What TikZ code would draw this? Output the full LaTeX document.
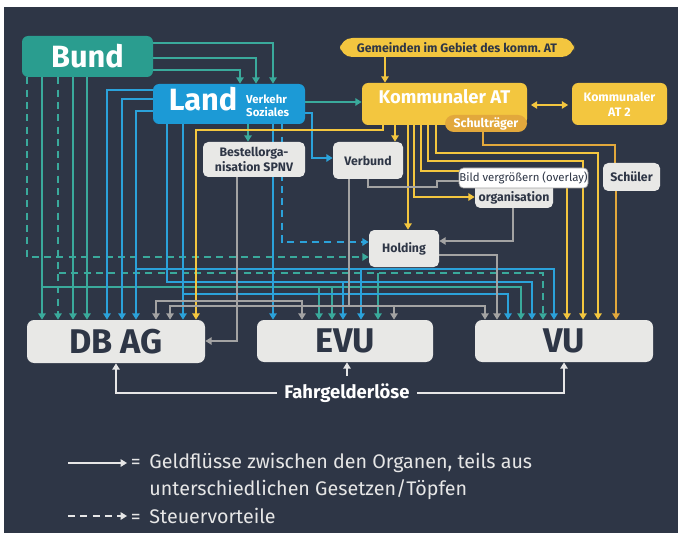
\documentclass[tikz,border=0pt]{standalone}
\usepackage{fontspec}
\setmainfont{Fira Sans}
\usetikzlibrary{arrows.meta}

\definecolor{bgdark}{HTML}{2E3646}
\definecolor{bundteal}{HTML}{2A9D8F}
\definecolor{tealline}{HTML}{3AAA9C}
\definecolor{landblue}{HTML}{1C9AD6}
\definecolor{blueline}{HTML}{2BA2DA}
\definecolor{komyellow}{HTML}{F3C63F}
\definecolor{schulorange}{HTML}{E2A83C}
\definecolor{boxlight}{HTML}{E8E8E6}
\definecolor{boxtext}{HTML}{2E3646}
\definecolor{grayline}{HTML}{A3A3A3}
\definecolor{whiteline}{HTML}{E6E6E6}

\pgfdeclarelayer{bg}
\pgfdeclarelayer{lines}
\pgfsetlayers{bg,lines,main}

\newcommand{\hugefont}{\fontsize{19.5}{21}\selectfont\bfseries}
\newcommand{\bigfont}{\fontsize{17.5}{19}\selectfont\bfseries}
\newcommand{\komfont}{\fontsize{10.5}{12}\selectfont\bfseries}
\newcommand{\smallbold}{\fontsize{7}{8.5}\selectfont\bfseries}
\newcommand{\legendfont}{\fontsize{11.2}{15.3}\selectfont}

\tikzset{
  >={Triangle[length=3.6pt,width=4.2pt]},
  boxsize/.style 2 args={minimum width=#1*0.02cm,minimum height=#2*0.02cm},
  flow/.style={line width=0.9pt,->},
  taxdash/.style={dash pattern=on 4pt off 3pt},
  tflow/.style={flow,draw=tealline},
  tdash/.style={tflow,taxdash},
  bflow/.style={flow,draw=blueline},
  bdash/.style={bflow,taxdash},
  yflow/.style={flow,draw=komyellow},
  oflow/.style={flow,draw=schulorange},
  gflow/.style={flow,draw=grayline},
  wflow/.style={flow,draw=whiteline},
  mainbox/.style={rounded corners=3.5pt,inner sep=0pt,text=white,font=\bigfont},
  lightbox/.style={rounded corners=3pt,inner sep=0pt,fill=boxlight,text=boxtext,font=\smallbold,align=center},
  yellowbox/.style={rounded corners=3.5pt,inner sep=0pt,fill=komyellow,text=white,align=center},
  legend/.style={text=whiteline,font=\legendfont,inner sep=2pt}
}

\begin{document}
\begin{tikzpicture}[x=0.02cm,y=-0.02cm]
  \useasboundingbox (0,0) rectangle (678,533);
  \begin{pgfonlayer}{bg}
    \fill[white] (0,0) rectangle (678,533);
    \fill[bgdark] (4,7) rectangle (678,533);
  \end{pgfonlayer}

  % Organe
  \node[mainbox,fill=bundteal,boxsize={131}{41}] (Bund) at (87.5,56.5) {Bund};
  \node[mainbox,fill=landblue,boxsize={152}{40}] (Land) at (229,104)
    {Land\hspace{5pt}{\fontsize{6.5}{7.5}\selectfont\begin{tabular}[c]{@{}l@{}}Verkehr\\Soziales\end{tabular}}};
  \node[yellowbox,rounded corners=7pt,boxsize={234}{19},text=boxtext,font=\smallbold] (Gem) at (457,47.5)
    {Gemeinden im Gebiet des komm.\ AT};
  \node[yellowbox,boxsize={165}{42},font=\komfont,text depth=8pt] (KomAT) at (444.5,104) {Kommunaler AT};
  \node[yellowbox,fill=schulorange,boxsize={82}{17},font=\smallbold,rounded corners=5pt] (Schul) at (486,123.5) {Schulträger};
  \node[yellowbox,boxsize={95}{42},font=\smallbold] (KomAT2) at (619.5,104) {Kommunaler\\AT 2};
  \node[lightbox,boxsize={102}{35}] (Bestell) at (254,159.5) {Bestellorga-\\nisation SPNV};
  \node[lightbox,boxsize={70}{37}] (Verbund) at (368,160.5) {Verbund};
  \node[lightbox,boxsize={78}{32}] (Org) at (514,192) {\vphantom{g}\\organisation};
  \node[lightbox,boxsize={57}{28}] (Schueler) at (631.5,177) {Schüler};
  \node[lightbox,boxsize={70}{37}] (Holding) at (404,248.5) {Holding};
  \node[lightbox,font=\hugefont,boxsize={178}{43},rounded corners=4pt] (DBAG) at (116,341.5) {DB AG};
  \node[lightbox,font=\hugefont,boxsize={176}{42},rounded corners=4pt] (EVU) at (345,341) {EVU};
  \node[lightbox,font=\hugefont,boxsize={178}{42},rounded corners=4pt] (VU) at (564,341) {VU};
  \node[text=white,font=\fontsize{10.5}{12}\selectfont\bfseries,inner sep=4pt] (Fahr) at (347,393) {Fahrgelderlöse};

  % Abzweigpunkte
  \coordinate (jTeal) at (378,273);
  \coordinate (jTealA) at (319,287);
  \coordinate (jTealB) at (332,287);
  \coordinate (jBlueA) at (361,269);
  \coordinate (jBlueB) at (343,282);
  \coordinate (jBest) at (237,301);
  \coordinate (jVerb) at (394,306);

  \begin{pgfonlayer}{lines}
  % Bund
  \draw[tflow] (Bund.east |- 0,43) -| (Land.north -| 273,0);
  \draw[tflow] (Bund.east |- 0,58) -| (Land.north -| 256,0);
  \draw[tflow] (Bund.east |- 0,70) -| (Land.north -| 240,0);
  \draw[tdash] (Bund.south -| 27,0) |- (Holding.west |- 0,257);
  \draw[tdash] (Bund.south -| 58,0) -- (DBAG.north -| 58,0);
  \draw[tdash] (Bund.south -| 58,0) -- (58,273) -| (VU.north -| 543,0);
  \draw[tflow] (jTeal) -- (EVU.north -| jTeal);
  \draw[tflow] (Bund.south -| 42,0) -- (DBAG.north -| 42,0);
  \draw[tflow] (Bund.south -| 42,0) -- (42,287) -| (VU.north -| 521,0);
  \draw[tflow] (jTealA) -- (EVU.north -| jTealA);
  \draw[tflow] (jTealB) -- (EVU.north -| jTealB);
  \draw[tflow] (Bund.south -| 73,0) -- (DBAG.north -| 73,0);
  \draw[tflow] (Bund.south -| 87,0) -- (DBAG.north -| 87,0);

  % Land
  \draw[bflow] (Land.west |- 0,90) -| (DBAG.north -| 107,0);
  \draw[bflow] (Land.west |- 0,99) -| (DBAG.north -| 122,0);
  \draw[bflow] (Land.west |- 0,111) -| (DBAG.north -| 136,0);
  \draw[bflow] (Land.west |- 0,111) -| (136,269) -| (VU.north -| 554,0);
  \draw[bflow] (jBlueA) -- (EVU.north -| jBlueA);
  \draw[bflow] (Land.south -| 167,0) -- (167,282) -| (VU.north -| 532,0);
  \draw[bflow] (jBlueB) -- (EVU.north -| jBlueB);
  \draw[bflow] (Land.south -| 183,0) -- (DBAG.north -| 183,0);
  \draw[bflow] (Land.south -| 183,0) -- (183,294) -| (VU.north -| 508,0);
  \draw[bflow] (Land.south -| 273,0) -- (EVU.north -| 273,0);
  \draw[bdash] (Land.south -| 282,0) |- (Holding.west |- 0,242);
  \draw[tflow] (Land.south -| 248,0) -- (Bestell.north -| 248,0);
  \draw[tflow] (Land.east |- 0,102) -- (KomAT.west |- 0,102);
  \draw[bflow] (Land.east |- 0,113) -| (312,158) -- (Verbund.west |- 0,158);

  % Kommunaler AT
  \draw[yflow] (Gem.south -| 385,0) -- (KomAT.north -| 385,0);
  \draw[yflow,<->,shorten <=2pt,shorten >=2pt] (KomAT.east |- 0,105) -- (KomAT2.west |- 0,105);
  \draw[yflow] (KomAT.south -| 383,0) |- (196,130) -- (DBAG.north -| 196,0);
  \draw[yflow] (KomAT.south -| 395,0) -- (Verbund.north -| 395,0);
  \draw[yflow] (KomAT.south -| 408,0) -- (Holding.north -| 408,0);
  \draw[yflow] (KomAT.south -| 414,0) |- (Org.west |- 0,197);
  \draw[yflow] (KomAT.south -| 421,0) |- (567,171) -- (VU.north -| 567,0);
  \draw[yflow] (KomAT.south -| 428,0) |- (583,161) -- (VU.north -| 583,0);
  \draw[yflow] (KomAT.south -| 436,0) |- (598,153) -- (VU.north -| 598,0);
  \draw[line width=0.9pt,draw=schulorange] (Schul.south -| 483,0) |- (615,145) -- (Schueler.north -| 615,0);
  \draw[oflow] (Schueler.south -| 616,0) -- (VU.north -| 616,0);

  % graue Flüsse
  \draw[gflow] (Bestell.south -| 237,0) |- (DBAG.east |- 0,341);
  \draw[gflow] (Bestell.south -| 237,0) -- (jBest) -| (DBAG.north -| 156,0);
  \draw[gflow] (jBest) -| (EVU.north -| 302,0);
  \draw[gflow] (Verbund.south -| 349,0) -- (349,306) -| (DBAG.north -| 170,0);
  \draw[gflow] (Verbund.south -| 349,0) -- (349,306) -| (VU.north -| 485,0);
  \draw[gflow] (jVerb) -- (EVU.north -| jVerb);
  \draw[gflow] (Verbund.south) |- (437,187) |- (Org.west |- 0,181);
  \draw[gflow] (Org.south -| 513,0) |- (Holding.east |- 0,241);
  \draw[gflow] (Holding.east |- 0,255) -| (VU.north -| 497,0);

  % Fahrgelderlöse
  \draw[wflow] (Fahr.west) -| (DBAG.south);
  \draw[wflow] (Fahr.east) -| (VU.south);
  \draw[wflow] (Fahr.north) -- (Fahr.north |- EVU.south);
  \end{pgfonlayer}

  % Overlay
  \node[rounded corners=2.5pt,fill=white,draw=grayline,line width=0.4pt,text=boxtext,
        font=\fontsize{6.5}{7.5}\selectfont,boxsize={129}{20},inner sep=0pt] (Overlay) at (523.5,178)
    {Bild vergrößern (overlay)};

  % Legende
  \coordinate (legA) at (68,463);
  \coordinate (legB) at (68,516);
  \node[legend,anchor=west] (legTxt1) at (127,476.5)
    {\begin{tabular}{@{}l@{\hspace{5pt}}l@{}}= & Geldflüsse zwischen den Organen, teils aus\\ & unterschiedlichen Gesetzen/Töpfen\end{tabular}};
  \node[legend,anchor=west] (legTxt2) at (127,516) {=\hspace{5pt}Steuervorteile};
  \draw[wflow] (legA) -- (legA -| legTxt1.west);
  \draw[wflow,taxdash] (legB) -- (legTxt2.west);
\end{tikzpicture}
\end{document}
